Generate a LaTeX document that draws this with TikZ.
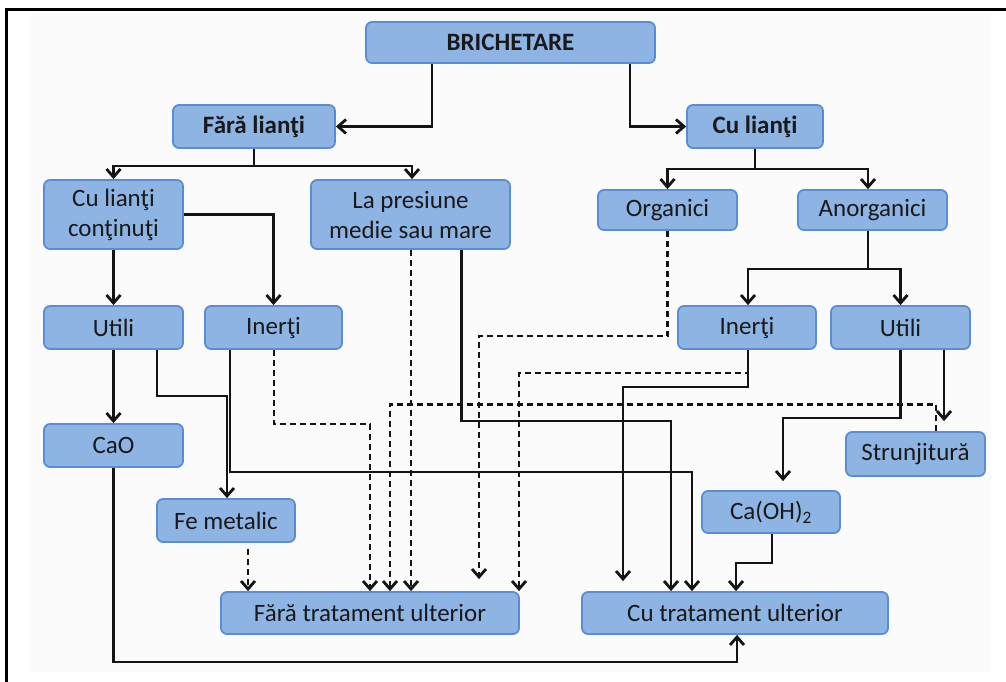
\documentclass[tikz,border=0pt]{standalone}
\usepackage{fontspec}
\setmainfont{Carlito}
\usetikzlibrary{arrows.meta}
\definecolor{boxfill}{RGB}{142,180,227}
\definecolor{boxedge}{RGB}{91,141,214}
\definecolor{ink}{RGB}{25,25,25}
\definecolor{paper}{RGB}{251,251,251}
\begin{document}
\begin{tikzpicture}[x=1pt,y=-1pt,
  box/.style={draw=boxedge, fill=boxfill, line width=1.8pt, rounded corners=6pt,
    inner sep=0pt, align=center, text=ink,
    font=\fontsize{25}{30}\selectfont},
  hbox/.style={box, font=\fontsize{25}{30}\selectfont\bfseries},
  conn/.style={line width=2.8pt, draw=black!92,
    -{Straight Barb[length=8pt,width=14pt]}},
  dconn/.style={conn, dash pattern=on 6pt off 4pt}]
\useasboundingbox (0,0) rectangle (1006,682);
\fill[paper] (30,15) rectangle (991,672);
% outer frame (left and top edges)
\draw[line width=3pt] (6,682) -- (6,10) -- (1006,10);

% boxes
\node[hbox, minimum width=289pt, minimum height=41pt] (top)   at (510.5,42.5) {BRICHETARE};
\node[hbox, minimum width=162pt, minimum height=43pt] (fara)  at (254,126.5) {Fără lianţi};
\node[hbox, minimum width=136pt, minimum height=43pt] (cul)   at (755,126.5) {Cu lianţi};
\node[box, minimum width=139pt, minimum height=69pt]  (clc)   at (113.5,214.5) {Cu lianţi\\conţinuţi};
\node[box, minimum width=199pt, minimum height=69pt]  (pres)  at (410.5,214.5) {La presiune\\medie sau mare};
\node[box, minimum width=139pt, minimum height=40pt]  (org)   at (667.5,210) {Organici};
\node[box, minimum width=149pt, minimum height=40pt]  (anorg) at (872.5,210) {Anorganici};
\node[box, minimum width=139pt, minimum height=43pt]  (utL)   at (113.5,327.5) {Utili};
\node[box, minimum width=137pt, minimum height=43pt]  (inL)   at (273.5,327.5) {Inerţi};
\node[box, minimum width=138pt, minimum height=43pt]  (inR)   at (747,327.5) {Inerţi};
\node[box, minimum width=139pt, minimum height=43pt]  (utR)   at (900.5,327.5) {Utili};
\node[box, minimum width=139pt, minimum height=43pt]  (cao)   at (113.5,445.5) {CaO};
\node[box, minimum width=139pt, minimum height=44pt]  (strun) at (915.5,454) {Strunjitură};
\node[box, minimum width=138pt, minimum height=42pt]  (caoh)  at (771,512) {Ca(OH)\textsubscript{2}};
\node[box, minimum width=138pt, minimum height=43pt]  (fe)    at (226,520.5) {Fe metalic};
\node[box, minimum width=298pt, minimum height=42pt]  (fara2) at (370,613) {Fără tratament ulterior};
\node[box, minimum width=306pt, minimum height=42pt]  (cu2)   at (735,613) {Cu tratament ulterior};

% first split
\draw[conn] ([xshift=-78.5pt]top.south) |- (fara.east);
\draw[conn] ([xshift=119.5pt]top.south) |- (cul.west);

% without binders
\draw[conn] (fara.south) -- ++(0,17) -| (clc.north);
\draw[conn] (fara.south) -- ++(0,17) -| ([xshift=1.5pt]pres.north);
\draw[conn] (clc.south) -- (utL.north);
\draw[conn] (clc.east) -| (inL.north);
\draw[conn] (utL.south) -- (cao.north);
\draw[conn] ([xshift=43.5pt]utL.south) -- ++(0,46) -| ([xshift=1pt]fe.north);
\draw[conn] ([xshift=-43.5pt]inL.south) -- ++(0,122) -| ([xshift=-43pt]cu2.north);
\draw[dconn] ([xshift=0.5pt]inL.south) -- ++(0,74) -| (fara2.north);
\draw[dconn] ([xshift=0.5pt]pres.south) -- ([xshift=41pt]fara2.north);
\draw[conn] ([xshift=51pt]pres.south) -- ++(0,171) -| ([xshift=-64pt]cu2.north);
\draw[dconn, shorten <=6pt] ([xshift=22pt]fe.south) -- ([xshift=-122pt]fara2.north);
\draw[conn] (cao.south) -- ++(0,194) -| ([xshift=2pt]cu2.south);

% with binders
\draw[conn] (cul.south) -- ++(0,20) -| (org.north);
\draw[conn] (cul.south) -- ++(0,20) -| ([xshift=-4.5pt]anorg.north);
\draw[conn] ([xshift=-4.5pt]anorg.south) -- ++(0,38) -| ([xshift=1pt]inR.north);
\draw[conn] ([xshift=-4.5pt]anorg.south) -- ++(0,38) -| (utR.north);
\draw[dconn, shorten >=12pt] (org.south) -- ++(0,105) -| ([xshift=109pt]fara2.north);
\draw[dconn] ([xshift=1pt]inR.south) -- ++(0,23) -| ([xshift=149pt]fara2.north);
\draw[conn, shorten >=10pt] ([xshift=1pt]inR.south) -- ++(0,37) -| ([xshift=-112pt]cu2.north);
\draw[conn, shorten >=9pt] (utR.south) -- ++(0,68) -| ([xshift=12pt]caoh.north);
\draw[conn, shorten >=10pt] ([xshift=43.5pt]utR.south) -- ([xshift=28.5pt]strun.north);
\draw[dconn] ([xshift=20.5pt]strun.north) -- ++(0,-27) -| ([xshift=20pt]fara2.north);
\draw[conn] ([xshift=1pt]caoh.south) -- ++(0,29) -| ([xshift=1pt]cu2.north);
\end{tikzpicture}
\end{document}
